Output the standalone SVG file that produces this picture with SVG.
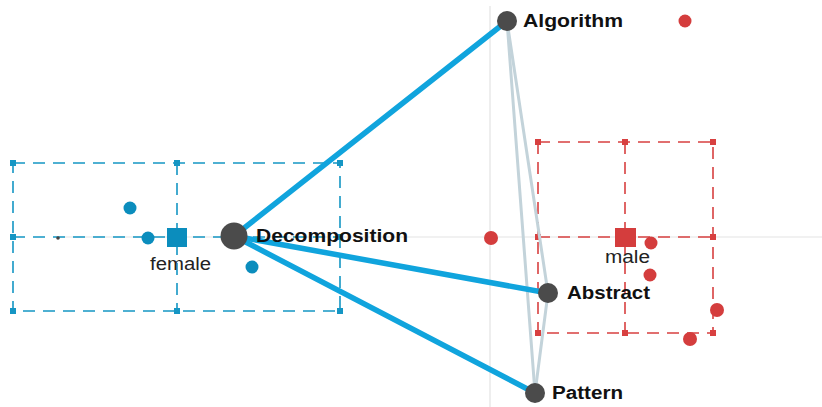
<svg xmlns="http://www.w3.org/2000/svg" width="822" height="407" viewBox="0 0 822 407">
<style>
.axis{stroke:#e3e3e3;stroke-width:1.2;fill:none}
.bbox{stroke:#1596c4;stroke-width:1.6;stroke-dasharray:12 8;fill:none}
.rbox{stroke:#d84040;stroke-width:1.6;stroke-dasharray:12 8;fill:none}
.bm{fill:#1596c4}
.rm{fill:#d84040}
.bdot{fill:#0b8dbd}
.rdot{fill:#d43d3d}
.edge{stroke:#10a4dd;stroke-width:5.5;stroke-linecap:round}
.edge2{stroke:#c3d3da;stroke-width:3;stroke-linecap:round}
.node{fill:#4b4b4b}
.lab{font-family:"Liberation Sans",Arial,sans-serif;font-weight:bold;font-size:18px;fill:#111}
.glab{font-family:"Liberation Sans",Arial,sans-serif;font-size:17.5px;fill:#222}
</style>
<rect width="822" height="407" fill="#fff"/>
<line class="axis" x1="58" y1="237" x2="822" y2="237"/>
<line class="axis" x1="490" y1="6" x2="490" y2="407"/>
<g id="female-group">
<rect class="bbox" x="13" y="163" width="327" height="148"/>
<line class="bbox" x1="13" y1="237" x2="340" y2="237"/>
<line class="bbox" x1="177" y1="163" x2="177" y2="311"/>
<rect class="bm" x="10" y="160" width="6" height="6"/><rect class="bm" x="174" y="160" width="6" height="6"/><rect class="bm" x="337" y="160" width="6" height="6"/>
<rect class="bm" x="10" y="234" width="6" height="6"/><rect class="bm" x="337" y="234" width="6" height="6"/>
<rect class="bm" x="10" y="308" width="6" height="6"/><rect class="bm" x="174" y="308" width="6" height="6"/><rect class="bm" x="337" y="308" width="6" height="6"/>
<circle class="bdot" cx="130" cy="208" r="6.5"/>
<circle class="bdot" cx="148" cy="238" r="6.5"/>
<circle class="bdot" cx="252" cy="267" r="6.5"/>
<circle cx="58" cy="238" r="1.8" fill="#444"/>
<rect class="bdot" x="167" y="228" width="20" height="19"/>
<text class="glab" x="150" y="270" textLength="61" lengthAdjust="spacingAndGlyphs">female</text>
</g>
<g id="male-group">
<rect class="rbox" x="538" y="142" width="175" height="191"/>
<line class="rbox" x1="538" y1="237" x2="713" y2="237"/>
<line class="rbox" x1="625" y1="142" x2="625" y2="333"/>
<rect class="rm" x="535" y="139" width="6" height="6"/><rect class="rm" x="622" y="139" width="6" height="6"/><rect class="rm" x="710" y="139" width="6" height="6"/>
<rect class="rm" x="535" y="234" width="6" height="6"/><rect class="rm" x="710" y="234" width="6" height="6"/>
<rect class="rm" x="535" y="330" width="6" height="6"/><rect class="rm" x="622" y="330" width="6" height="6"/><rect class="rm" x="710" y="330" width="6" height="6"/>
<circle class="rdot" cx="491" cy="238" r="7"/>
<circle class="rdot" cx="651" cy="243" r="6.5"/>
<circle class="rdot" cx="650" cy="275" r="6.5"/>
<circle class="rdot" cx="717" cy="310" r="7"/>
<circle class="rdot" cx="690" cy="339" r="7"/>
<circle class="rdot" cx="685" cy="21" r="6.5"/>
<rect class="rdot" x="615" y="228" width="21" height="19"/>
<text class="glab" x="605" y="263" textLength="45" lengthAdjust="spacingAndGlyphs">male</text>
</g>
<g id="connectors">
<line class="edge2" x1="507" y1="21" x2="548" y2="293"/>
<line class="edge2" x1="507" y1="21" x2="535" y2="393"/>
<line class="edge2" x1="548" y1="293" x2="535" y2="393"/>
<line class="edge" x1="234" y1="236" x2="507" y2="21"/>
<line class="edge" x1="234" y1="236" x2="548" y2="293"/>
<line class="edge" x1="234" y1="236" x2="535" y2="393"/>
</g>
<g id="node-decomposition"><circle class="node" cx="234" cy="236" r="13.5"/><text class="lab" x="256" y="242" textLength="152" lengthAdjust="spacingAndGlyphs">Decomposition</text></g>
<g id="node-algorithm"><circle class="node" cx="507" cy="21" r="10"/><text class="lab" x="523" y="27" textLength="100" lengthAdjust="spacingAndGlyphs">Algorithm</text></g>
<g id="node-abstract"><circle class="node" cx="548" cy="293" r="10"/><text class="lab" x="567" y="299" textLength="83" lengthAdjust="spacingAndGlyphs">Abstract</text></g>
<g id="node-pattern"><circle class="node" cx="535" cy="393" r="10"/><text class="lab" x="552" y="399" textLength="71" lengthAdjust="spacingAndGlyphs">Pattern</text></g>
</svg>
